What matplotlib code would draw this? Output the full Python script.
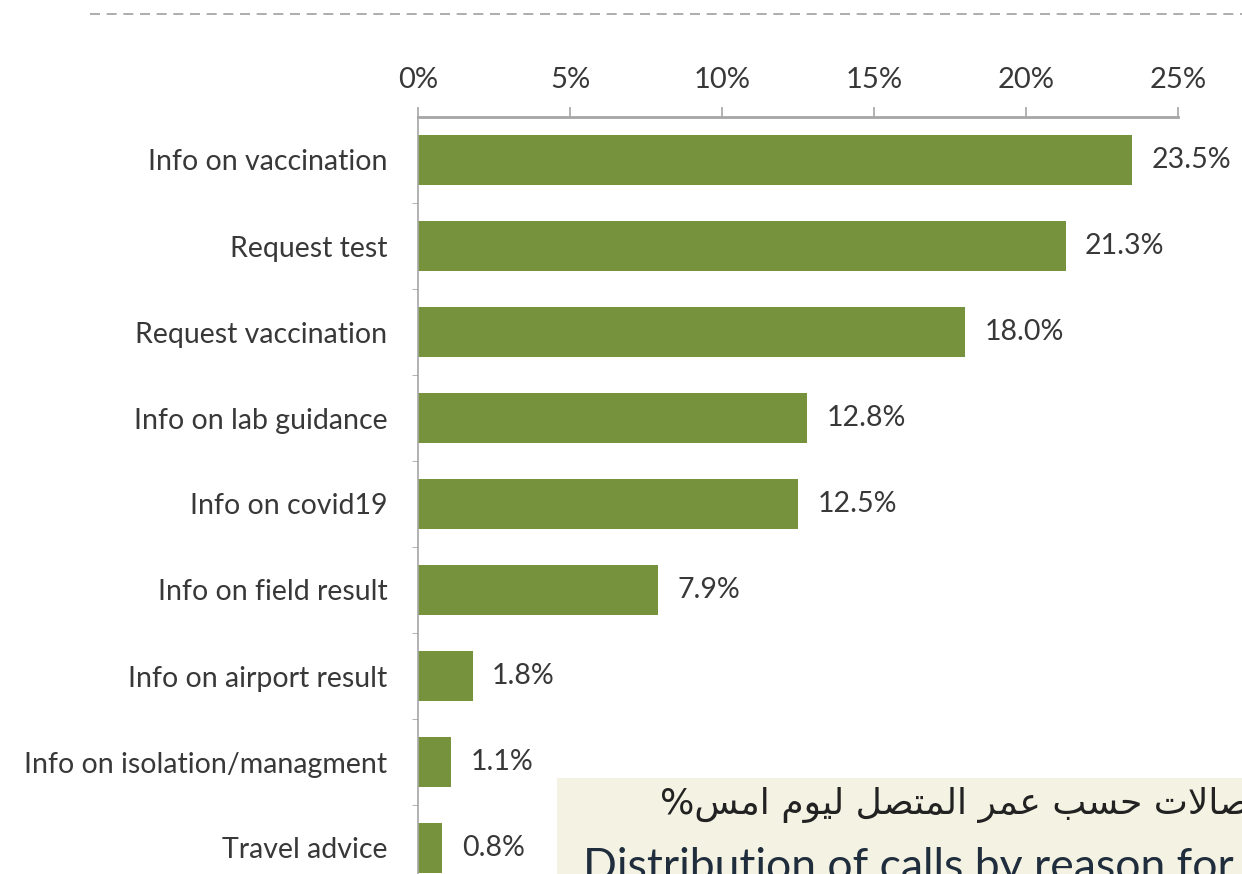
import numpy as np
import matplotlib
matplotlib.use("Agg")
import matplotlib.pyplot as plt
from matplotlib.lines import Line2D
from matplotlib.patches import Rectangle
from matplotlib.ticker import FixedLocator

categories = [
    "Info on vaccination",
    "Request test",
    "Request vaccination",
    "Info on lab guidance",
    "Info on covid19",
    "Info on field result",
    "Info on airport result",
    "Info on isolation/managment",
    "Travel advice",
]
values = [23.5, 21.3, 18.0, 12.8, 12.5, 7.9, 1.8, 1.1, 0.8]
xticks = [0, 5, 10, 15, 20, 25]

title_ar = "الاتصالات حسب عمر المتصل ليوم امس%"
title_en = "Distribution of calls by reason for call"

BAR = "#76923c"
TXT = "#383838"
AXC = "#a6a6a6"

# minimal arabic shaping (presentation forms B) -> visual order
FORMS = {  # iso, fin, ini, med
    "ا": (0xFE8D, 0xFE8E, None, None), "ب": (0xFE8F, 0xFE90, 0xFE91, 0xFE92),
    "ت": (0xFE95, 0xFE96, 0xFE97, 0xFE98), "ح": (0xFEA1, 0xFEA2, 0xFEA3, 0xFEA4),
    "ر": (0xFEAD, 0xFEAE, None, None), "س": (0xFEB1, 0xFEB2, 0xFEB3, 0xFEB4),
    "ص": (0xFEB9, 0xFEBA, 0xFEBB, 0xFEBC), "ع": (0xFEC9, 0xFECA, 0xFECB, 0xFECC),
    "ل": (0xFEDD, 0xFEDE, 0xFEDF, 0xFEE0), "م": (0xFEE1, 0xFEE2, 0xFEE3, 0xFEE4),
    "و": (0xFEED, 0xFEEE, None, None), "ي": (0xFEF1, 0xFEF2, 0xFEF3, 0xFEF4),
}

def shape(s):
    out, i, prev_joins = [], 0, False
    while i < len(s):
        c = s[i]
        if c not in FORMS:
            out.append(c); prev_joins = False; i += 1
            continue
        if c == "ل" and i + 1 < len(s) and s[i + 1] == "ا":
            out.append(chr(0xFEFC if prev_joins else 0xFEFB))
            prev_joins = False; i += 2
            continue
        f = FORMS[c]
        nxt = s[i + 1] if i + 1 < len(s) else ""
        joins_next = f[2] is not None and nxt in FORMS
        if prev_joins and joins_next:
            g = f[3]
        elif prev_joins:
            g = f[1]
        elif joins_next:
            g = f[2]
        else:
            g = f[0]
        out.append(chr(g))
        prev_joins = f[2] is not None
        i += 1
    return "".join(out)[::-1]

plt.rcParams["font.family"] = ["Lato", "DejaVu Sans"]

fig = plt.figure(figsize=(12.42, 8.74), dpi=100)
ax = fig.add_axes([418 / 1242, 1 - 891 / 874, 760 / 1242, 774 / 874])

y = np.arange(len(categories))
bars = ax.barh(y, values, height=0.58, color=BAR)
ax.set_xlim(0, 25)
ax.set_ylim(len(categories) - 0.5, -0.5)

ax.xaxis.tick_top()
ax.set_xticks(xticks)
ax.set_xticklabels([f"{t}%" for t in xticks], fontsize=21, color=TXT)
ax.tick_params(axis="x", direction="out", length=7, width=1.2, color=AXC, pad=10)
ax.set_yticks(y)
ax.set_yticklabels(categories, fontsize=20.5, color=TXT)
ax.tick_params(axis="y", which="major", length=0, pad=22)
ax.yaxis.set_minor_locator(FixedLocator(np.arange(0.5, len(categories), 1.0)))
ax.tick_params(axis="y", which="minor", direction="out", length=4, color=AXC)

for s in ("right", "bottom"):
    ax.spines[s].set_visible(False)
ax.spines["top"].set_color(AXC)
ax.spines["top"].set_linewidth(2)
ax.spines["left"].set_color(AXC)
ax.spines["left"].set_linewidth(1.2)

for b, v in zip(bars, values):
    ax.annotate(f"{v:.1f}%", (v, b.get_y() + b.get_height() / 2),
                xytext=(14, 0), textcoords="offset points",
                va="center", ha="left", fontsize=20.5, color=TXT)

# dashed separator at the top
fig.add_artist(Line2D([90 / 1242, 1], [1 - 14 / 874] * 2, transform=fig.transFigure,
                      color="#a0a0a0", lw=1.2, ls=(0, (6, 4))))

# title box, cut off at the bottom right
fig.add_artist(Rectangle((557 / 1242, 0), 1, 1 - 778 / 874, transform=fig.transFigure,
                         facecolor="#f4f3e3", edgecolor="none", zorder=5))
fig.text(660 / 1242, 1 - 805 / 874, shape(title_ar), family=["DejaVu Sans"],
         fontsize=26, color="#222222", ha="left", va="center", zorder=6)
fig.text(583 / 1242, 1 - 880 / 874, title_en, fontsize=32, color="#1f2d3d",
         ha="left", va="baseline", zorder=6)

fig.savefig("out.png", dpi=100)
